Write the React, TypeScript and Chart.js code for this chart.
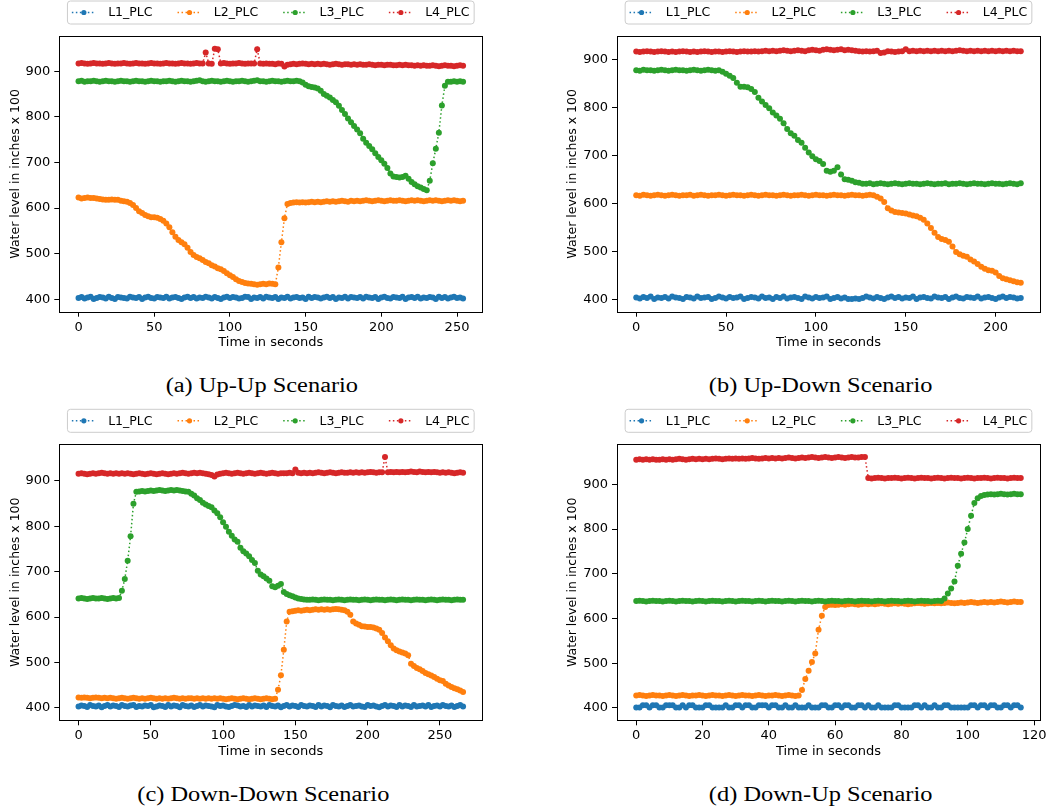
import React, { useEffect, useRef } from 'react';
import { Chart, registerables } from 'chart.js';

Chart.register(...registerables);

// ---------------- data ----------------
const SERIES_NAMES = ['L1_PLC', 'L2_PLC', 'L3_PLC', 'L4_PLC'];
const COLORS = ['#1f77b4', '#ff7f0e', '#2ca02c', '#d62728'];
const Y_TICKS = [400, 500, 600, 700, 800, 900];
const X_TICKS_A = [0, 50, 100, 150, 200, 250];
const X_TICKS_B = [0, 50, 100, 150, 200];
const X_TICKS_C = [0, 50, 100, 150, 200, 250];
const X_TICKS_D = [0, 20, 40, 60, 80, 100, 120];
const X_TITLE = 'Time in seconds';
const Y_TITLE = 'Water level in inches x 100';
const CAPTIONS = ['(a) Up-Up Scenario', '(b) Up-Down Scenario', '(c) Down-Down Scenario', '(d) Down-Up Scenario'];

// sampling interval (seconds) of each scenario
const STEP_A = 2;
const STEP_B = 2;
const STEP_C = 2;
const STEP_D = 1;

// (a) Up-Up, t = 0..254
const A_L1 = [
  403,405,402,404,406,401,403,405,404,402,406,403,401,405,404,403,
  402,406,404,403,405,401,404,406,403,402,405,404,403,406,402,404,
  405,403,401,404,406,403,405,402,404,403,406,404,402,405,403,401,
  404,406,403,405,404,402,403,406,405,401,404,403,405,402,406,404,
  403,405,401,404,403,406,402,404,405,403,404,401,406,403,405,404,
  402,404,406,403,405,401,404,403,406,402,405,404,403,405,402,406,
  404,403,405,401,404,406,403,402,405,404,403,406,401,404,405,403,
  406,402,404,403,405,404,401,406,403,405,402,404,406,403,404,402,
];
const A_L2 = [
  623,621,622,623,622,622,621,620,619,618,618,619,618,618,616,615,
  614,611,607,600,593,589,585,582,580,580,579,576,572,566,558,547,
  537,530,525,521,513,504,497,493,490,486,482,479,475,472,468,466,
  462,457,453,449,444,440,438,436,435,434,433,432,433,434,433,435,
  434,433,470,525,578,609,611,612,613,612,613,612,613,614,613,614,
  613,614,615,614,615,614,615,616,615,614,616,615,616,615,616,617,
  616,615,616,617,616,615,616,617,616,616,617,616,615,616,617,616,
  617,616,615,616,617,616,617,616,615,616,617,616,617,616,615,616,
];
const A_L3 = [
  878,879,877,878,878,879,878,877,878,879,878,878,877,878,879,878,
  878,877,878,879,878,878,877,878,879,878,878,877,878,878,879,878,
  877,878,879,878,878,877,878,879,880,878,877,878,879,878,878,877,
  878,879,878,877,878,878,879,878,877,878,879,880,878,878,877,878,
  879,878,878,877,878,879,878,878,879,878,875,870,867,865,864,862,
  857,850,846,842,837,832,824,815,806,796,788,780,772,764,752,743,
  736,729,720,712,705,697,688,676,669,668,667,668,671,664,657,652,
  648,645,642,639,660,698,730,765,825,868,877,877,878,877,878,877,
];
const A_L4 = [
  917,918,917,916,917,918,917,917,916,917,918,917,916,917,917,918,
  917,916,917,918,917,917,916,917,918,917,917,916,917,918,917,917,
  916,917,918,917,917,916,917,918,917,917,941,917,916,949,948,917,
  918,917,916,917,917,918,917,916,917,917,917,948,917,916,917,916,
  916,915,917,916,910,914,915,916,915,916,917,916,915,916,915,916,
  915,916,915,914,915,916,915,914,915,915,914,915,914,915,914,914,
  915,914,913,914,914,913,914,914,913,913,914,913,914,913,913,912,
  913,912,913,912,912,913,912,911,912,913,912,912,911,912,913,912,
];

// (b) Up-Down, t = 0..214
const B_L1 = [
  404,402,405,403,406,401,404,403,405,402,406,404,403,401,405,404,
  402,406,403,404,405,401,403,406,404,402,405,403,404,406,401,403,
  405,404,402,406,403,404,401,405,403,406,402,404,405,403,401,406,
  404,402,405,403,404,406,401,403,405,402,404,401,401,402,401,403,
  406,404,402,405,403,401,404,406,403,405,402,404,403,406,401,404,
  405,403,402,406,404,403,405,401,404,406,403,402,405,404,403,406,
  402,404,405,403,401,404,406,403,405,404,402,403,
];
const B_L2 = [
  617,616,618,617,616,617,618,617,616,617,618,617,616,617,617,618,
  616,617,618,617,616,617,617,618,617,616,617,618,617,617,616,617,
  618,617,616,617,618,617,617,616,617,618,617,616,617,617,618,617,
  616,617,618,617,617,616,617,618,617,617,616,617,618,617,617,616,
  617,618,617,
  614,610,603,590,585,582,581,580,579,577,575,573,570,566,558,549,
  539,530,526,524,520,510,499,494,491,489,483,479,474,468,464,461,
  460,456,449,444,442,440,438,436,435,
];
const B_L3 = [
  877,876,878,877,877,876,877,878,877,876,877,878,877,877,876,877,
  878,877,876,877,878,877,876,877,
  874,870,866,861,851,843,843,842,838,832,820,812,805,798,789,783,
  776,767,755,746,741,732,726,716,706,698,692,688,682,668,666,668,
  675,660,650,649,647,644,643,641,
  641,642,640,641,642,641,640,641,642,641,640,641,642,641,641,640,
  641,642,641,640,641,641,642,640,641,641,642,641,640,641,642,641,
  641,640,641,642,641,641,640,641,642,641,640,642,
];
const B_L4 = [
  916,915,916,917,916,915,916,917,916,915,916,915,916,917,916,915,
  916,915,916,917,916,915,916,916,915,916,917,916,915,916,917,916,
  916,917,916,917,918,917,918,917,918,919,918,917,918,919,918,917,
  919,920,919,918,920,921,920,919,920,921,919,920,919,918,917,916,
  917,916,917,918,913,914,917,916,915,916,917,921,917,918,917,918,
  917,918,917,918,917,918,917,918,917,918,919,918,917,918,917,918,
  917,918,917,918,917,918,917,918,917,918,917,917,
];

// (c) Down-Down, t = 0..266
const C_L1 = [
  403,405,404,402,406,404,403,405,401,404,406,403,405,404,402,406,
  404,403,405,406,402,404,403,405,404,406,401,403,405,404,402,406,
  403,405,404,401,406,404,403,405,402,404,406,403,405,404,403,401,
  406,404,405,403,402,404,406,405,403,404,402,406,403,405,404,403,
  405,402,406,404,403,405,401,404,406,403,405,404,402,406,404,403,
  405,404,402,406,403,405,404,401,406,404,403,405,402,404,406,403,
  404,405,403,402,406,404,405,403,401,404,406,403,405,404,402,406,
  403,405,404,402,406,403,404,405,403,406,402,404,405,403,406,404,
  403,405,402,404,406,403,
];
const C_L2 = [
  423,422,423,422,421,422,423,422,421,422,421,422,421,420,421,422,
  421,420,421,422,421,420,421,420,421,422,421,420,421,420,421,420,
  421,422,421,420,421,420,421,421,420,421,420,421,420,421,420,421,
  420,421,420,419,420,421,420,419,420,421,420,419,420,421,420,419,
  420,421,420,419,420,
  440,472,528,590,612,
  613,614,615,614,615,616,615,616,617,616,617,616,617,616,617,618,617,616,615,
  612,605,590,586,583,580,579,578,578,577,575,572,565,555,547,538,
  531,527,524,522,520,516,497,492,488,485,481,477,474,471,468,464,
  461,459,453,449,446,443,441,438,435,
];
const C_L3 = [
  641,642,641,640,641,642,641,641,642,641,640,641,642,641,642,
  658,684,724,778,850,876,877,878,877,878,879,878,879,880,879,878,
  879,880,879,880,879,878,877,876,
  872,868,862,858,852,848,845,842,835,829,820,809,799,788,779,771,
  766,753,745,740,734,726,719,702,694,690,685,680,668,666,669,673,
  655,651,648,646,643,641,640,639,638,
  638,639,638,637,638,639,638,638,637,638,639,638,637,638,639,638,
  638,637,638,639,638,637,638,639,638,638,637,638,639,638,637,638,
  639,638,638,637,638,639,638,638,637,638,639,638,637,638,639,638,
  638,637,638,639,638,638,
];
const C_L4 = [
  916,917,916,915,916,917,916,917,918,917,916,917,916,917,916,917,
  916,917,916,915,916,917,916,915,916,917,916,915,916,917,916,915,
  916,917,916,917,918,917,916,917,918,917,918,917,916,915,913,910,
  914,916,917,918,917,916,917,918,917,916,917,918,917,916,917,918,
  917,916,917,918,917,916,917,917,917,918,917,925,918,917,918,917,
  918,917,918,919,918,917,918,919,918,917,918,919,918,918,919,918,
  919,918,919,918,919,920,919,918,919,919,953,919,920,919,920,919,
  920,919,920,921,920,919,921,920,919,920,919,920,919,918,919,918,
  919,918,917,918,919,918,
];

// (d) Down-Up, t = 0..116
const D_L1 = [
  401,401,406,406,401,406,406,401,401,406,406,406,401,401,406,401,
  406,406,401,401,401,406,406,401,401,401,401,406,401,401,406,406,
  401,406,406,401,401,406,406,406,401,406,406,401,401,406,401,401,
  406,401,401,401,406,401,401,401,406,406,401,401,406,406,401,406,
  406,401,401,406,406,401,406,401,401,406,401,401,401,401,406,406,
  401,401,401,401,406,406,401,406,401,401,406,401,401,406,406,401,
  401,401,401,401,401,406,406,401,406,406,401,406,406,401,401,406,
  406,401,406,406,401,
];
const D_L2 = [
  428,429,428,427,428,429,428,428,427,428,429,428,427,428,429,428,427,428,428,429,
  428,427,428,429,428,428,427,428,429,428,427,428,429,428,428,427,428,429,428,427,
  428,428,429,428,427,428,429,428,427,428,
  440,465,483,503,522,575,606,626,630,
  631,630,631,632,631,632,633,632,631,632,633,632,633,632,633,634,633,632,633,634,
  633,634,633,632,633,634,635,634,633,634,635,634,635,634,635,636,635,634,635,636,
  635,636,637,636,635,636,637,636,637,636,637,638,637,636,637,638,637,637,
];
const D_L3 = [
  639,640,639,638,639,640,639,639,638,639,640,639,638,639,640,639,639,638,639,640,
  639,638,639,640,639,639,638,639,640,639,638,639,640,639,639,638,639,640,639,638,
  639,640,639,639,638,639,640,639,638,639,640,639,639,638,639,640,639,638,639,640,
  639,639,638,639,640,639,638,639,640,639,639,638,639,640,639,638,639,640,639,639,
  638,639,640,639,638,639,640,639,639,638,639,640,639,
  645,656,667,683,718,745,770,800,830,858,869,874,876,877,
  878,877,878,879,878,877,878,879,878,878,
];
const D_L4 = [
  955,956,955,956,955,956,955,955,956,955,956,955,956,957,956,955,956,957,956,957,
  956,957,956,957,958,957,956,957,958,957,958,957,958,957,958,959,958,957,958,959,
  958,959,958,959,958,959,960,959,958,959,960,959,960,961,960,959,960,961,960,959,
  960,961,960,959,960,961,960,960,961,961,
  914,913,914,915,914,913,914,914,915,914,913,914,915,914,913,914,915,914,914,913,
  914,915,914,913,914,915,914,914,913,914,915,914,913,914,914,915,914,913,914,915,
  914,914,913,914,915,914,914,
];

// ---------------- layout (page pixels) ----------------
type PanelCfg = {
  left: number; top: number;
  area: { l: number; r: number; t: number; b: number };
  xRange: [number, number]; yRange: [number, number];
  xTicks: number[]; step: number; series: number[][];
  caption: string; captionX: number; captionBaseline: number;
};

const CANVAS_W = 525;
const CANVAS_H = 360;
const Y_AXIS_W = 59.3;
const X_AXIS_H = 38.8;
const FONT = '"DejaVu Sans", sans-serif';
const POINT_R = 3;

const PANELS: PanelCfg[] = [
  { left: 0, top: 0, area: { l: 59.3, r: 482.3, t: 36, b: 311.7 }, xRange: [-12.7, 266.7], yRange: [373, 977],
    xTicks: X_TICKS_A, step: STEP_A, series: [A_L1, A_L2, A_L3, A_L4], caption: CAPTIONS[0], captionX: 262, captionBaseline: 392 },
  { left: 525, top: 0, area: { l: 92, r: 515, t: 36, b: 311.7 }, xRange: [-10.7, 224.7], yRange: [374.5, 948.5],
    xTicks: X_TICKS_B, step: STEP_B, series: [B_L1, B_L2, B_L3, B_L4], caption: CAPTIONS[1], captionX: 821, captionBaseline: 392 },
  { left: 0, top: 400, area: { l: 59.3, r: 482.3, t: 44.3, b: 320.3 }, xRange: [-13.3, 279.3], yRange: [372.5, 980.8],
    xTicks: X_TICKS_C, step: STEP_C, series: [C_L1, C_L2, C_L3, C_L4], caption: CAPTIONS[2], captionX: 263.5, captionBaseline: 801 },
  { left: 525, top: 400, area: { l: 92, r: 515, t: 44.3, b: 320.3 }, xRange: [-5.8, 121.8], yRange: [372.5, 989.5],
    xTicks: X_TICKS_D, step: STEP_D, series: [D_L1, D_L2, D_L3, D_L4], caption: CAPTIONS[3], captionX: 821, captionBaseline: 801 },
];

const frameLegendPlugin = {
  id: 'frameLegend',
  afterDraw(chart: any) {
    const { ctx, chartArea } = chart;
    ctx.save();
    // axes frame
    ctx.strokeStyle = '#000';
    ctx.lineWidth = 1;
    ctx.setLineDash([]);
    const l = Math.round(chartArea.left) + 0.5;
    const t = Math.round(chartArea.top) + 0.5;
    const r = Math.round(chartArea.right) + 0.5;
    const b = Math.round(chartArea.bottom) + 0.5;
    ctx.strokeRect(l, t, r - l, b - t);

    // legend
    const bw = 406.7;
    const bh = 23;
    const cx = (chartArea.left + chartArea.right) / 2;
    const bx = cx - bw / 2;
    const by = chartArea.top - 35;
    const rad = 3;
    ctx.beginPath();
    ctx.moveTo(bx + rad, by);
    ctx.lineTo(bx + bw - rad, by);
    ctx.arcTo(bx + bw, by, bx + bw, by + rad, rad);
    ctx.lineTo(bx + bw, by + bh - rad);
    ctx.arcTo(bx + bw, by + bh, bx + bw - rad, by + bh, rad);
    ctx.lineTo(bx + rad, by + bh);
    ctx.arcTo(bx, by + bh, bx, by + bh - rad, rad);
    ctx.lineTo(bx, by + rad);
    ctx.arcTo(bx, by, bx + rad, by, rad);
    ctx.closePath();
    ctx.fillStyle = 'rgba(255,255,255,0.8)';
    ctx.fill();
    ctx.strokeStyle = '#cccccc';
    ctx.lineWidth = 1;
    ctx.stroke();

    const cy = by + bh / 2;
    SERIES_NAMES.forEach((name, i) => {
      const sx = bx + 4.4 + i * 105.67;
      ctx.strokeStyle = COLORS[i];
      ctx.lineWidth = 1.5;
      ctx.setLineDash([1.5, 2.5]);
      ctx.beginPath();
      ctx.moveTo(sx, cy);
      ctx.lineTo(sx + 23, cy);
      ctx.stroke();
      ctx.setLineDash([]);
      ctx.fillStyle = COLORS[i];
      ctx.beginPath();
      ctx.arc(sx + 12, cy, 2.6, 0, Math.PI * 2);
      ctx.fill();
      ctx.fillStyle = '#000';
      ctx.font = `12.5px ${FONT}`;
      ctx.textBaseline = 'middle';
      ctx.textAlign = 'left';
      ctx.fillText(name, sx + 36.3, cy + 0.5);
    });
    ctx.restore();
  },
};

function Panel({ cfg }: { cfg: PanelCfg }) {
  const ref = useRef<HTMLCanvasElement>(null);
  useEffect(() => {
    const canvas = ref.current;
    if (!canvas) return;
    const padL = cfg.area.l - Y_AXIS_W;
    const padR = CANVAS_W - cfg.area.r;
    const padT = cfg.area.t;
    const padB = CANVAS_H - cfg.area.b - X_AXIS_H;
    const chart = new Chart(canvas, {
      type: 'line',
      data: {
        datasets: cfg.series.map((vals, i) => ({
          label: SERIES_NAMES[i],
          data: vals.map((v, k) => ({ x: k * cfg.step, y: v })),
          borderColor: COLORS[i],
          backgroundColor: COLORS[i],
          pointBackgroundColor: COLORS[i],
          pointBorderWidth: 0,
          pointRadius: POINT_R,
          borderWidth: 1.5,
          borderDash: [1.5, 2.5],
          showLine: true,
          fill: false,
          tension: 0,
          order: 4 - i,
        })),
      },
      options: {
        responsive: false,
        animation: false,
        devicePixelRatio: 1,
        events: [],
        layout: { padding: { left: padL, right: padR, top: padT, bottom: padB } },
        plugins: { legend: { display: false }, tooltip: { enabled: false }, title: { display: false } },
        scales: {
          x: {
            type: 'linear',
            min: cfg.xRange[0],
            max: cfg.xRange[1],
            afterBuildTicks: (s: any) => { s.ticks = cfg.xTicks.map((v) => ({ value: v })); },
            afterFit: (s: any) => { s.height = X_AXIS_H; },
            grid: { display: true, drawOnChartArea: false, drawTicks: true, tickLength: 5, color: '#000', lineWidth: 1 },
            border: { display: false },
            ticks: { color: '#000', font: { family: FONT, size: 13 }, padding: 3, autoSkip: false, maxRotation: 0, minRotation: 0 },
            title: { display: true, text: X_TITLE, color: '#000', font: { family: FONT, size: 13 }, padding: 0 },
          },
          y: {
            type: 'linear',
            min: cfg.yRange[0],
            max: cfg.yRange[1],
            afterBuildTicks: (s: any) => { s.ticks = Y_TICKS.map((v) => ({ value: v })); },
            afterFit: (s: any) => { s.width = Y_AXIS_W; },
            grid: { display: true, drawOnChartArea: false, drawTicks: true, tickLength: 5, color: '#000', lineWidth: 1 },
            border: { display: false },
            ticks: { color: '#000', font: { family: FONT, size: 13 }, padding: 4, autoSkip: false },
            title: { display: true, text: Y_TITLE, color: '#000', font: { family: FONT, size: 12.5 }, padding: { top: 8, bottom: 0 } },
          },
        },
      } as any,
      plugins: [frameLegendPlugin],
    });
    return () => chart.destroy();
  }, [cfg]);
  return (
    <canvas
      ref={ref}
      width={CANVAS_W}
      height={CANVAS_H}
      style={{ position: 'absolute', left: cfg.left, top: cfg.top, width: `${CANVAS_W}px`, height: `${CANVAS_H}px` }}
    />
  );
}

export default function App() {
  return (
    <div style={{ position: 'absolute', left: 0, top: 0, width: 1050, height: 810, background: '#fff', overflow: 'hidden' }}>
      {PANELS.map((p, i) => (
        <Panel key={i} cfg={p} />
      ))}
      {PANELS.map((p, i) => (
        <div
          key={`cap${i}`}
          style={{
            position: 'absolute',
            left: p.captionX - 200,
            top: p.captionBaseline - 16.75,
            width: 400,
            textAlign: 'center',
            fontFamily: '"Liberation Serif", "Times New Roman", serif',
            fontSize: 20,
            lineHeight: '20px',
            whiteSpace: 'nowrap',
            color: '#000',
          }}
        >
          <span style={{ display: 'inline-block', transform: 'scaleX(1.22)' }}>{p.caption}</span>
        </div>
      ))}
    </div>
  );
}
